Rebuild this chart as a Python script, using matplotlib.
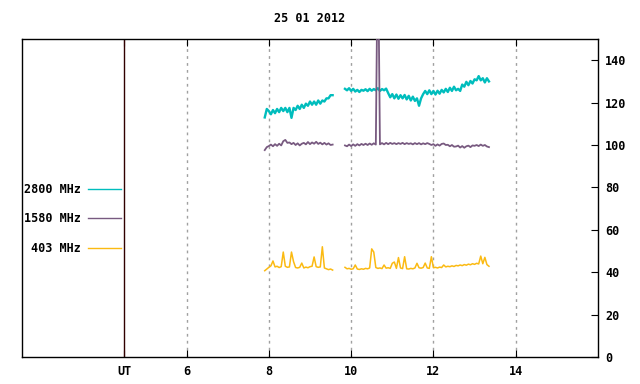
import numpy as np
import matplotlib.pyplot as plt

# Solar radio flux, 25 Jan 2012 (hours UT)
title = '25 01 2012'
hour_ticks = [6, 8, 10, 12, 14]
ut_mark = 4.48

# --- first observing block, 7.90 .. 9.55 h ---
f2800_a = [113.0, 117.0, 116.0, 114.5, 116.5, 115.0, 117.0, 115.5, 117.5, 116.0,
           117.5, 115.5, 117.5, 112.8, 117.5, 116.5, 118.5, 117.0, 119.0, 117.5,
           119.5, 118.5, 120.5, 119.0, 120.5, 119.0, 121.0, 119.5, 121.0, 120.5,
           122.0, 122.0, 123.5, 123.5]
f1580_a = [97.6, 99.0, 99.5, 100.2, 99.4, 100.4, 99.6, 100.6, 99.8, 101.8,
           102.4, 101.0, 101.2, 100.4, 101.0, 100.0, 100.8, 99.8, 100.6, 101.0,
           100.3, 101.4, 100.4, 101.2, 100.6, 101.5, 100.5, 101.1, 100.3, 101.0,
           100.2, 100.8, 100.0, 100.2]
f403_a = [40.7, 41.5, 42.3, 43.0, 45.3, 42.5, 42.8, 42.2, 42.6, 49.5,
          42.8, 42.3, 42.5, 49.5, 45.0, 42.2, 42.0, 42.3, 44.3, 42.0,
          42.4, 42.1, 42.6, 42.8, 47.2, 42.6, 42.3, 42.5, 52.0, 42.0,
          41.6, 41.2, 41.5, 41.0]
t_a = np.linspace(7.90, 9.55, len(f2800_a))

# --- second observing block, 9.85 .. 13.35 h ---
f2800_b = [126.5, 125.8, 126.8, 125.5, 126.5, 125.2, 126.0, 125.0, 126.0, 125.6,
           126.3, 125.4, 126.5, 125.6, 126.4, 125.8, 126.8, 125.5, 126.4, 125.8,
           126.6,
           124.5, 122.5, 124.0, 122.0, 123.8, 121.8, 123.5, 122.0, 123.6, 121.5,
           123.2, 121.0, 122.8, 120.8, 122.0, 118.5, 122.0, 124.0, 125.5, 124.0,
           125.8, 124.0, 125.5, 123.8, 125.6, 124.2, 126.0, 124.8, 126.5, 125.0,
           127.0, 125.5, 127.5, 125.8, 126.5, 125.5, 128.5, 127.5, 129.8, 128.2,
           130.2, 129.0, 131.0, 130.5, 132.5, 130.5, 131.5, 129.5, 131.5, 130.0]
f1580_b = [99.8, 99.4, 100.2, 99.5, 100.3, 99.6, 100.4, 99.8, 100.5, 100.0,
           100.6, 100.0, 100.7, 100.1, 100.8, 100.2, 200.0, 100.3, 100.9, 100.3,
           101.0,
           100.4, 101.0, 100.5, 100.9, 100.4, 100.9, 100.5, 101.0, 100.4, 100.9,
           100.5, 100.8, 100.3, 100.9, 100.4, 100.9, 100.3, 100.8, 100.4, 100.9,
           100.5, 100.0, 100.4, 99.6, 100.3, 99.7, 100.5, 100.7, 100.0, 100.1,
           99.4, 100.0, 99.2, 99.3, 99.7, 98.8, 99.5, 98.7, 99.4, 99.7,
           99.0, 99.8, 99.6, 100.0, 99.5, 100.2, 99.6, 100.0, 99.3, 99.0]
f403_b = [42.3, 41.6, 41.8, 41.4, 41.6, 43.4, 41.5, 41.3, 41.6, 41.4,
          41.8, 41.6, 42.0, 51.0, 49.5, 42.2, 41.8, 42.0, 41.7, 43.4,
          41.9,
          42.1, 41.8, 44.2, 44.8, 41.8, 46.9, 42.0, 41.7, 47.3, 41.6,
          41.5, 41.8, 41.6, 42.0, 44.2, 42.1, 41.9, 42.2, 44.3, 42.0,
          41.8, 47.3, 42.1, 42.3, 42.0, 42.4, 42.2, 43.4, 42.5, 42.8,
          42.6, 43.0, 42.7, 43.2, 43.0, 43.4, 43.1, 43.6, 43.3, 43.8,
          43.5, 44.0, 43.7, 44.2, 43.9, 47.6, 44.0, 47.0, 43.6, 42.8]
t_b = np.linspace(9.85, 13.35, len(f2800_b))

# label, block a, block b, colour, line width
series = [
    ('2800 MHz', f2800_a, f2800_b, '#00BDBD', 1.7),
    ('1580 MHz', f1580_a, f1580_b, '#785A80', 1.3),
    ('403 MHz', f403_a, f403_b, '#FBBA12', 1.1),
]

plt.rcParams['font.family'] = 'DejaVu Sans Mono'
plt.rcParams['font.weight'] = 'bold'
plt.rcParams['font.size'] = 8.5

fig = plt.figure(figsize=(6.4, 3.84), dpi=100)
ax = fig.add_axes([22 / 640, 27 / 384, 576 / 640, 318 / 384])

for h in hour_ticks:
    ax.axvline(h, color='#a0a0a0', lw=1.0, ls=(0, (2, 3)), zorder=1)
ax.axvline(ut_mark, color='#300000', lw=1.0, zorder=2)

for label, ya, yb, color, lw in series:
    ax.plot(t_a, ya, color=color, lw=lw, label=label, zorder=3)
    ax.plot(t_b, yb, color=color, lw=lw, zorder=3)

ax.set_xlim(2, 16)
ax.set_ylim(0, 150)

ax.set_xticks([ut_mark] + hour_ticks)
ax.set_xticklabels(['UT'] + [str(h) for h in hour_ticks])
ax.tick_params(axis='x', direction='in', length=5, top=True, bottom=True, pad=6)

ax.yaxis.tick_right()
ax.set_yticks(np.arange(0, 141, 20))
ax.tick_params(axis='y', direction='in', length=5, left=False, right=True, pad=5)

for sp in ax.spines.values():
    sp.set_linewidth(1.0)

fig.text(310 / 640, 1 - 18 / 384, title, ha='center', va='center', fontsize=8.5, fontweight='bold')

leg = ax.legend(loc='center right', bbox_to_anchor=(99 / 576, 138 / 318), frameon=False,
                markerfirst=False, handlelength=2.8, handletextpad=0.6, labelspacing=1.4,
                borderpad=0, borderaxespad=0)
for line in leg.get_lines():
    line.set_linewidth(1.0)

fig.savefig('out.png', dpi=100)
